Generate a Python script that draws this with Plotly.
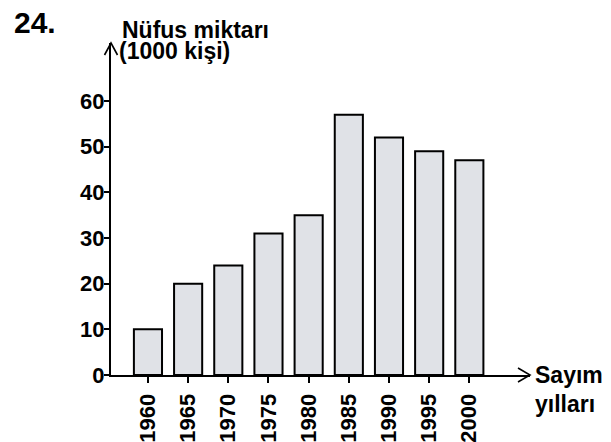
import plotly.graph_objects as go

# Census population (thousands of people)
years = ["1960", "1965", "1970", "1975", "1980", "1985", "1990", "1995", "2000"]
population = [10, 20, 24, 31, 35, 57, 52, 49, 47]
y_ticks = [0, 10, 20, 30, 40, 50, 60]

FONT = "Liberation Sans, Arial, sans-serif"
W, H = 611, 442
M_L, M_R, M_T, M_B = 111, 81, 43, 67
X_RANGE = [-0.92, 9.51]
Y_RANGE = [0, 72.7]

fig = go.Figure(
    go.Bar(
        x=years,
        y=population,
        width=0.7,
        marker=dict(color="#e0e2e7", line=dict(color="black", width=2)),
        hoverinfo="x+y",
    )
)

# open arrow heads at the ends of both axes
arrow_style = dict(type="path", line=dict(color="black", width=1.6), layer="above")
fig.add_shape(
    **arrow_style,
    xref="paper", yref="paper", xsizemode="pixel", ysizemode="pixel",
    xanchor=1, yanchor=0,
    path="M -12,7 L 0,0 L -12,-7",
)
fig.add_shape(
    **arrow_style,
    xref="paper", yref="paper", xsizemode="pixel", ysizemode="pixel",
    xanchor=0, yanchor=1,
    path="M -6.5,-12 L 0,0 L 6.5,-12",
)

def label(text, px, py, size, anchor="left"):
    fig.add_annotation(
        text=text, xref="paper", yref="paper",
        x=(px - M_L) / (W - M_L - M_R),
        y=(H - M_B - py) / (H - M_T - M_B),
        xanchor=anchor, yanchor="middle", showarrow=False,
        font=dict(family=FONT, size=size, color="black", weight="bold"),
    )

label("24.", 12, 22, 30)
label("Nüfus miktarı", 120, 30, 23)
label("(1000 kişi)", 117, 51, 23)
label("Sayım", 533, 375, 23)
label("yılları", 533, 404, 23)

fig.update_layout(
    width=W, height=H,
    margin=dict(l=M_L, r=M_R, t=M_T, b=M_B, pad=0, autoexpand=False),
    paper_bgcolor="white", plot_bgcolor="white",
    showlegend=False,
    bargap=0.3,
    xaxis=dict(
        type="category", range=X_RANGE, automargin=False,
        showline=True, linecolor="black", linewidth=2,
        ticks="outside", ticklen=6, tickwidth=2, tickcolor="black",
        tickangle=-90, showgrid=False, zeroline=False,
        ticklabelstandoff=2,
        tickfont=dict(family=FONT, size=22, color="black", weight="bold"),
    ),
    yaxis=dict(
        range=Y_RANGE, tickmode="array", tickvals=y_ticks, automargin=False,
        showline=True, linecolor="black", linewidth=2,
        ticks="outside", ticklen=5, tickwidth=2, tickcolor="black",
        ticklabelstandoff=-5,
        showgrid=False, zeroline=False,
        tickfont=dict(family=FONT, size=22, color="black", weight="bold"),
    ),
)

fig.write_html("out.html")
